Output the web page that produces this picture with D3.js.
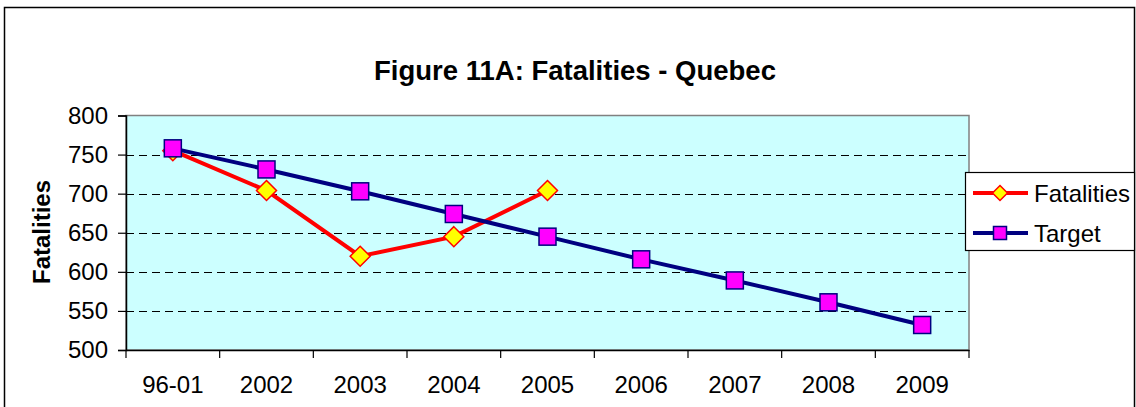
<!DOCTYPE html>
<html><head><meta charset="utf-8">
<script src="https://cdn.jsdelivr.net/npm/d3@7"></script>
<style>body{margin:0;background:#fff;} svg{display:block;font-family:"Liberation Sans",Arial,sans-serif;}</style>
</head><body>
<svg id="chart" width="1136" height="407"></svg>
<script>
const categories = ["96-01","2002","2003","2004","2005","2006","2007","2008","2009"];
const fatalities = [755, 704, 620, 645, 704];
const target = [758, 731, 703, 674, 645, 616, 589, 561, 532];
const yTicks = [500, 550, 600, 650, 700, 750, 800];
const seriesNames = ["Fatalities", "Target"];

const svg = d3.select("#chart");
const L = 126, R = 969, T = 115.5, B = 350;

// outer frame
svg.append("rect").attr("x",4.5).attr("y",7.5).attr("width",1130).attr("height",420)
  .attr("fill","#fff").attr("stroke","#000").attr("stroke-width",1.5);

const x = d3.scaleBand().domain(categories).range([L, R]);
const y = d3.scaleLinear().domain([500, 800]).range([B, T]);

// plot background
svg.append("rect").attr("x",L).attr("y",T).attr("width",R-L).attr("height",B-T)
  .attr("fill","#CCFFFF").attr("stroke","#808080").attr("stroke-width",1.5);

// gridlines
svg.append("g").selectAll("line").data(yTicks.filter(v=>v>500 && v<800)).join("line")
  .attr("x1",L).attr("x2",R).attr("y1",d=>Math.round(y(d))+0.5).attr("y2",d=>Math.round(y(d))+0.5)
  .attr("stroke","#000").attr("stroke-width",1).attr("stroke-dasharray","8,5");

// y axis
const yAxis = d3.axisLeft(y).tickValues(yTicks).tickSize(8).tickPadding(10);
const gy = svg.append("g").attr("transform",`translate(${L},0)`).call(yAxis);
gy.select(".domain").attr("stroke","#000").attr("stroke-width",1.5);
gy.selectAll(".tick line").attr("stroke","#000").attr("stroke-width",1.2);
gy.selectAll(".tick text").attr("font-size","24px").attr("fill","#000")
  .attr("font-family","Liberation Sans, Arial, sans-serif");

// x axis
const xAxis = d3.axisBottom(x).tickSize(0).tickPadding(26);
const gx = svg.append("g").attr("transform",`translate(0,${B})`).call(xAxis);
gx.select(".domain").attr("stroke","#000").attr("stroke-width",1.5);
gx.selectAll(".tick text").attr("font-size","24px").attr("fill","#000")
  .attr("font-family","Liberation Sans, Arial, sans-serif");
// boundary ticks
gx.append("g").selectAll("line").data(categories.concat([null])).join("line")
  .attr("x1",(d,i)=>L + i*x.step()).attr("x2",(d,i)=>L + i*x.step())
  .attr("y1",0).attr("y2",8).attr("stroke","#000").attr("stroke-width",1.2);

// lines
const line = d3.line().x((d,i)=>x(categories[i]) + x.bandwidth()/2).y(d=>y(d));
const cx = i => x(categories[i]) + x.bandwidth()/2;

function drawDiamond(g, px, py, s) {
  g.append("path").attr("d",`M${px},${py-s}L${px+s},${py}L${px},${py+s}L${px-s},${py}Z`)
    .attr("fill","#FFFF00").attr("stroke","#FF0000").attr("stroke-width",1.5);
}
function drawSquare(g, px, py, s) {
  g.append("rect").attr("x",px-s).attr("y",py-s).attr("width",2*s).attr("height",2*s)
    .attr("fill","#FF00FF").attr("stroke","#000080").attr("stroke-width",1.5);
}

const gF = svg.append("g");
gF.append("path").datum(fatalities).attr("d",line).attr("fill","none")
  .attr("stroke","#FF0000").attr("stroke-width",4);
fatalities.forEach((v,i)=>drawDiamond(gF, cx(i), y(v), 10));

const gT = svg.append("g");
gT.append("path").datum(target).attr("d",line).attr("fill","none")
  .attr("stroke","#000080").attr("stroke-width",4);
target.forEach((v,i)=>drawSquare(gT, cx(i), y(v), 8.5));

// title
svg.append("text").attr("x",575).attr("y",80).attr("text-anchor","middle")
  .attr("font-size","27.5px").attr("font-weight","bold").text("Figure 11A: Fatalities - Quebec");

// y axis title
svg.append("text").attr("transform","translate(50,232) rotate(-90)").attr("text-anchor","middle")
  .attr("font-size","24px").attr("font-weight","bold").text("Fatalities");

// legend
const lg = svg.append("g");
lg.append("rect").attr("x",965.5).attr("y",172.5).attr("width",169).attr("height",78)
  .attr("fill","#fff").attr("stroke","#000").attr("stroke-width",1.2);
const rows = [193, 233];
seriesNames.forEach((name,i)=>{
  const ry = rows[i];
  lg.append("line").attr("x1",973).attr("x2",1028).attr("y1",ry).attr("y2",ry)
    .attr("stroke", i===0 ? "#FF0000" : "#000080").attr("stroke-width",4);
  if (i===0) drawDiamond(lg, 1000, ry, 7.5); else drawSquare(lg, 1000, ry, 6.5);
  lg.append("text").attr("x",1034).attr("y",ry+8.5).attr("font-size","24px").text(name);
});
</script>
</body></html>
